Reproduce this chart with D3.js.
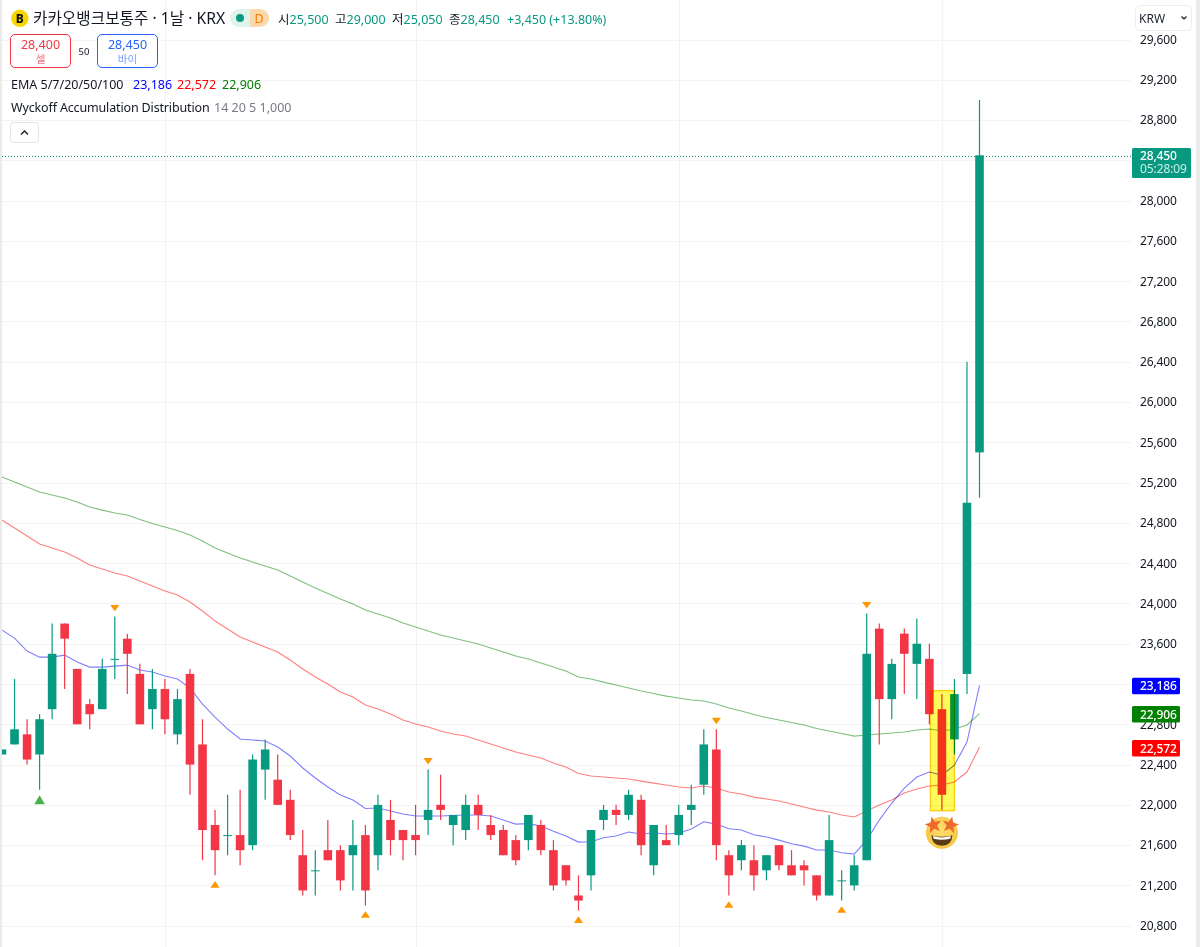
<!DOCTYPE html>
<html><head><meta charset="utf-8">
<script src="https://cdnjs.cloudflare.com/ajax/libs/d3/7.8.5/d3.min.js"></script>
<style>
html,body{margin:0;padding:0;background:#fff;overflow:hidden}
svg{display:block}
text{font-family:"Noto Sans","Noto Sans CJK KR",sans-serif;font-size:12px;fill:#131722}
</style></head><body><svg id="c" width="1200" height="947"></svg>
<script>
const open=[22500,22600,22700,22500,22950,23800,23350,23000,22950,23450,23650,23300,22950,23150,22700,23300,22600,21800,21700,21700,21600,22350,22250,22050,21500,21350,21550,21550,21500,21700,21500,21850,21750,21700,21850,22000,21800,21750,22000,21800,21750,21650,21650,21800,21550,21400,21100,21300,21850,21950,21900,22050,21400,21650,21700,21950,22200,22550,21500,21450,21450,21350,21600,21400,21400,21300,21100,21250,21200,21450,23750,23050,23700,23400,23450,22950,22650,23300,25500];
const high=[22550,23250,22850,22900,23800,23800,23350,23050,23450,23870,23700,23400,23350,23250,23150,23350,22850,21950,22100,22150,22500,22650,22500,22150,21750,21550,21850,21600,21850,21800,22100,22050,21750,22000,22350,22300,21900,22100,22100,21900,21800,21700,21900,21850,21650,21400,21300,21750,22000,22000,22150,22100,21800,21800,22000,22200,22750,22750,21550,21650,21600,21500,21600,21550,21450,21300,21900,21350,21500,23900,23800,23450,23750,23850,23600,23100,23250,26400,29000];
const low=[22500,22600,22400,22150,22850,23150,22800,22750,22950,23250,23100,22800,22750,22700,22600,22100,21450,21300,21500,21400,21550,22050,22000,21650,21100,21100,21450,21150,21150,21000,21350,21500,21450,21500,21700,21850,21600,21650,21750,21650,21500,21400,21550,21500,21150,21200,20950,21150,21750,21800,21850,21500,21300,21600,21600,21800,22100,21450,21100,21350,21150,21250,21350,21300,21200,21050,21100,21050,21150,21450,22600,22850,23100,23050,22800,21950,22500,23100,25050];
const close=[22550,22750,22450,22850,23500,23650,22800,22900,23350,23450,23500,22800,23150,22850,23050,22400,21750,21550,21700,21550,22450,22550,22000,21700,21150,21350,21450,21250,21600,21150,22000,21650,21650,21650,21950,21950,21900,22000,21900,21700,21500,21450,21900,21550,21200,21250,21050,21750,21950,21900,22100,21600,21800,21600,21900,22000,22600,21600,21300,21600,21300,21500,21400,21300,21350,21100,21650,21250,21400,23500,23050,23400,23500,23600,22900,22100,23100,25000,28450];
const emaBlue=[23735,23656,23527,23467,23467,23487,23418,23368,23368,23378,23388,23339,23319,23279,23249,23160,23001,22872,22753,22654,22644,22634,22574,22485,22366,22267,22177,22098,22048,21964,21969,21939,21909,21889,21889,21889,21894,21899,21899,21889,21849,21809,21814,21789,21739,21690,21630,21633,21673,21690,21730,21710,21723,21710,21720,21760,21832,21809,21762,21750,21703,21680,21650,21613,21590,21551,21551,21524,21511,21650,21849,22018,22167,22276,22326,22296,22395,22624,23186];
const emaRed=[24828,24749,24669,24590,24550,24510,24451,24381,24342,24302,24272,24222,24173,24123,24083,24014,23925,23825,23746,23666,23617,23567,23517,23438,23349,23269,23200,23120,23071,22991,22951,22902,22842,22802,22773,22733,22703,22683,22644,22604,22564,22524,22495,22465,22415,22375,22311,22286,22276,22266,22256,22236,22216,22197,22177,22167,22187,22167,22127,22107,22077,22058,22038,22008,21978,21948,21929,21899,21879,21939,21998,22048,22117,22157,22187,22197,22227,22326,22572];
const emaGreen=[25255,25205,25156,25106,25076,25047,25007,24957,24927,24898,24878,24833,24793,24759,24724,24679,24620,24550,24500,24451,24411,24371,24332,24272,24212,24153,24098,24044,23994,23934,23895,23855,23805,23766,23726,23686,23656,23627,23597,23557,23517,23478,23448,23408,23368,23329,23269,23249,23219,23190,23160,23130,23105,23080,23061,23041,23031,23001,22961,22932,22897,22867,22842,22817,22793,22758,22733,22708,22683,22693,22703,22713,22723,22743,22753,22733,22753,22793,22906];
const gridPrices=[29600,29200,28800,28400,28000,27600,27200,26800,26400,26000,25600,25200,24800,24400,24000,23600,23200,22800,22400,22000,21600,21200,20800];
const priceTicks=[29600,29200,28800,28000,27600,27200,26800,26400,26000,25600,25200,24800,24400,24000,23600,22800,22400,22000,21600,21200,20800];
const timeGrid=[13,33,54,75];
const markersUpOrange=[17,29,46,58,67];
const markersUpGreen=[3];
const markersDownOrange=[9,34,57,69];
const highlightIndex=75;
const lastPrice=28450, lastCountdown="05:28:09";
const ohlcLabels=[["시","25,500"],["고","29,000"],["저","25,050"],["종","28,450"]];
const changeText="+3,450 (+13.80%)";
const emaLegend=[["23,186","#0000ff"],["22,572","#ff0000"],["22,906","#008000"]];
const emaTags=[[23186,"#0000ff"],[22906,"#008000"],[22572,"#ff0000"]];

const svg=d3.select("#c");
const UP="#089981",DOWN="#f23645",PLOT_R=1131;
const x=d3.scaleLinear().domain([0,78]).range([2,979.5]);
const y=d3.scaleLinear().domain([29600,20800]).range([39.5,925.7]);
const idx=d3.range(open.length);
const fmt=d3.format(",");

// grid
svg.append("g").selectAll("line").data(gridPrices).join("line")
 .attr("x1",2).attr("x2",PLOT_R).attr("y1",d=>Math.round(y(d))+.5).attr("y2",d=>Math.round(y(d))+.5)
 .attr("stroke","#f3f3f4").attr("stroke-width",1);
svg.append("g").selectAll("line").data(timeGrid).join("line")
 .attr("x1",d=>Math.round(x(d))+.5).attr("x2",d=>Math.round(x(d))+.5).attr("y1",0).attr("y2",947)
 .attr("stroke","#f3f3f4").attr("stroke-width",1);

const plot=svg.append("g");
// EMA lines
const line=d3.line().x((d,i)=>x(i)).y(d=>y(d));
[[emaGreen,"#008000"],[emaRed,"#ff0000"],[emaBlue,"#0000ff"]].forEach(([s,c])=>{
 plot.append("path").attr("d",line(s)).attr("fill","none").attr("stroke",c).attr("stroke-opacity",.5).attr("stroke-width",1.1);
});
// candles
const col=i=>close[i]>=open[i]?UP:DOWN;
plot.append("g").selectAll("line").data(idx).join("line")
 .attr("x1",i=>x(i)).attr("x2",i=>x(i)).attr("y1",i=>y(high[i])).attr("y2",i=>y(low[i]))
 .attr("stroke",col).attr("stroke-width",1.2);
plot.append("g").selectAll("rect").data(idx).join("rect")
 .attr("x",i=>x(i)-4.3).attr("width",8.6)
 .attr("y",i=>y(Math.max(open[i],close[i])))
 .attr("height",i=>Math.max(1,Math.abs(y(open[i])-y(close[i]))))
 .attr("fill",col);

// markers
const tri=(cx,tip,base,hw)=>`M${cx},${tip}L${cx+hw},${base}L${cx-hw},${base}Z`;
plot.append("g").selectAll("path").data(markersUpOrange).join("path")
 .attr("d",i=>tri(x(i),y(low[i])+5.7,y(low[i])+12.3,4.6)).attr("fill","#ff9800");
plot.append("g").selectAll("path").data(markersUpGreen).join("path")
 .attr("d",i=>tri(x(i),y(low[i])+5.5,y(low[i])+14.5,5.3)).attr("fill","#4caf50");
plot.append("g").selectAll("path").data(markersDownOrange).join("path")
 .attr("d",i=>tri(x(i),y(high[i])-5.2,y(high[i])-11.5,4.6)).attr("fill","#ff9800");

// highlight box
const hx=x(highlightIndex);
svg.append("rect").attr("x",hx-11.5).attr("width",24).attr("y",690.7).attr("height",120)
 .attr("fill","#fffb5a").attr("stroke","#ffd21a").attr("stroke-width",1.5)
 .style("mix-blend-mode","multiply");

// emoji
const e=svg.append("g").attr("transform",`translate(${hx},832.7)`);
const defs=svg.append("defs");
const rg=defs.append("radialGradient").attr("id","face").attr("cx","50%").attr("cy","40%").attr("r","60%");
rg.append("stop").attr("offset","0%").attr("stop-color","#fde070");
rg.append("stop").attr("offset","100%").attr("stop-color","#f9c440");
e.append("circle").attr("r",16).attr("fill","url(#face)");
const star=d3.range(10).map(k=>{const r=k%2?3.7:8.8,a=-Math.PI/2+k*Math.PI/5;return [r*Math.cos(a),r*Math.sin(a)];});
[[-8.5,-7.5,-12],[8.5,-7.5,12]].forEach(([sx,sy,rot])=>{
 e.append("path").attr("d",d3.line().curve(d3.curveLinearClosed)(star)).attr("transform",`translate(${sx},${sy}) rotate(${rot})`).attr("fill","#ee6a2c");
});
e.append("path").attr("d","M-10.5,2.5 Q0,5.5 10.5,2.5 Q10,13 0,13 Q-10,13 -10.5,2.5Z").attr("fill","#5b3a16");
e.append("path").attr("d","M-9,3.4 Q0,6 9,3.4 L8.3,6 Q0,8.3 -8.3,6Z").attr("fill","#fff");

// dotted price line
svg.append("line").attr("x1",2).attr("x2",PLOT_R).attr("y1",Math.round(y(lastPrice))+1.5).attr("y2",Math.round(y(lastPrice))+1.5)
 .attr("stroke",UP).attr("stroke-width",1).attr("stroke-dasharray","1 2");

// axis
const axis=d3.axisRight(y).tickValues(priceTicks).tickFormat(fmt).tickSize(0).tickPadding(0);
const ag=svg.append("g").attr("transform","translate(1140,0)").call(axis);
ag.select(".domain").remove();
ag.selectAll("text").style("font-size","12px").style("fill","#131722").style("letter-spacing","-0.15px");

// tags
const tagTop=[677.7,706,740];
emaTags.forEach(([p,c],i)=>{
 svg.append("rect").attr("x",1132).attr("y",tagTop[i]).attr("width",48).attr("height",16.6).attr("rx",1.5).attr("fill",c);
 svg.append("text").attr("x",1140).attr("y",tagTop[i]+12.6).text(fmt(p)).style("fill","#fff").style("font-size","12px").style("font-weight",500).style("letter-spacing","-0.15px");
});
const ly=Math.round(y(lastPrice));
svg.append("rect").attr("x",1132).attr("y",148).attr("width",59).attr("height",30).attr("rx",1.5).attr("fill",UP);
svg.append("text").attr("x",1140).attr("y",160).text(fmt(lastPrice)).style("fill","#fff").style("font-weight",500).style("letter-spacing","-0.15px");
svg.append("text").attr("x",1140).attr("y",173.3).text(lastCountdown).style("fill","#cdeee6").style("letter-spacing","-0.1px");

// frame strips
svg.append("rect").attr("x",0).attr("y",0).attr("width",2).attr("height",947).attr("fill","#ebebeb");
svg.append("rect").attr("x",1196).attr("y",0).attr("width",4).attr("height",947).attr("fill","#ebebeb");

// KRW button
svg.append("rect").attr("x",1135.5).attr("y",5.5).attr("width",56).attr("height",25).attr("rx",4).attr("fill","#fff").attr("stroke","#eceef2");
svg.append("text").attr("x",1139).attr("y",22.5).text("KRW").style("font-size","12px").style("fill","#1c2030");
svg.append("path").attr("d","M1181.5,16.5l2.5,2.5l2.5,-2.5").attr("fill","none").attr("stroke","#131722").attr("stroke-width",1.2);

// header
svg.append("circle").attr("cx",19.8).attr("cy",18.3).attr("r",8.7).attr("fill","#f7d600");
svg.append("text").attr("x",19.8).attr("y",22.6).attr("text-anchor","middle").text("B").style("font-size","12px").style("font-weight",800).style("fill","#111");
svg.append("text").attr("x",33).attr("y",24).text("카카오뱅크보통주 · 1날 · KRX").style("font-size","15.7px");
// pill
svg.append("path").attr("d","M250,9 h-11 a9,9 0 0 0 0,18 h11Z").attr("fill","#dff3ee");
svg.append("path").attr("d","M250,9 h10 a9,9 0 0 1 0,18 h-10Z").attr("fill","#fbd9ac");
svg.append("circle").attr("cx",240).attr("cy",18).attr("r",4).attr("fill",UP);
svg.append("text").attr("x",259).attr("y",22.5).attr("text-anchor","middle").text("D").style("font-size","12.5px").style("fill","#f57c00");
// OHLC
const ohlcX=[278,335,392,449];
ohlcLabels.forEach(([l,v],i)=>{
 const t=svg.append("text").attr("x",ohlcX[i]).attr("y",23.5).style("font-size","12.5px");
 t.append("tspan").text(l);
 t.append("tspan").text(v).style("fill",UP);
});
svg.append("text").attr("x",507).attr("y",23.5).text(changeText).style("font-size","12.5px").style("fill",UP);

// sell / buy
[[10.5,"#f23645","28,400","셀","#f8717d"],[97.5,"#2962ff","28,450","바이","#7c9dff"]].forEach(([bx,c,v,l,lc])=>{
 svg.append("rect").attr("x",bx).attr("y",34.5).attr("width",60).attr("height",33).attr("rx",4.5).attr("fill","#fff").attr("stroke",c);
 svg.append("text").attr("x",bx+30).attr("y",49).attr("text-anchor","middle").text(v).style("font-size","12.5px").style("fill",c);
 svg.append("text").attr("x",bx+30).attr("y",62.5).attr("text-anchor","middle").text(l).style("font-size","10.5px").style("fill",lc);
});
svg.append("text").attr("x",84).attr("y",54.5).attr("text-anchor","middle").text("50").style("font-size","9.5px");

// legends
svg.append("text").attr("x",11).attr("y",89).text("EMA 5/7/20/50/100").style("font-size","12.5px");
[133,177,222].forEach((lx,i)=>svg.append("text").attr("x",lx).attr("y",89).text(emaLegend[i][0]).style("font-size","12.5px").style("fill",emaLegend[i][1]));
svg.append("text").attr("x",11).attr("y",112).text("Wyckoff Accumulation Distribution").style("font-size","12.5px").style("letter-spacing","-0.15px");
svg.append("text").attr("x",214).attr("y",112).text("14 20 5 1,000").style("font-size","12.5px").style("fill","#787b86");
svg.append("rect").attr("x",10.5).attr("y",122.5).attr("width",28).attr("height",20).attr("rx",3).attr("fill","#fff").attr("stroke","#e0e3eb");
svg.append("path").attr("d","M21,134.5l3.5,-3.5l3.5,3.5").attr("fill","none").attr("stroke","#131722").attr("stroke-width",1.3);
</script></body></html>
